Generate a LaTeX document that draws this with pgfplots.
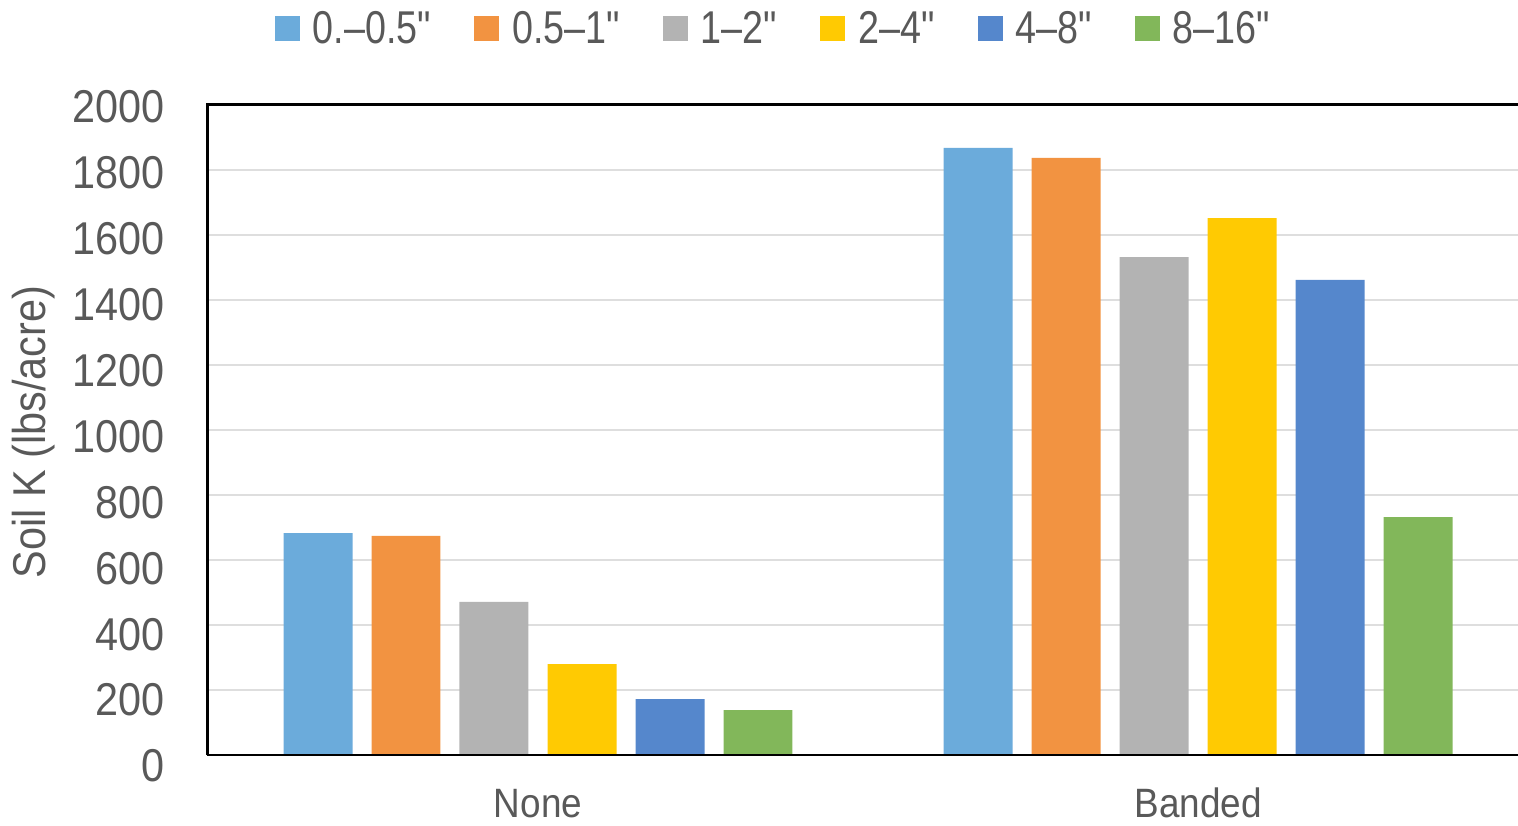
\documentclass[border=0pt]{standalone}
\usepackage{pgfplots}
\pgfplotsset{compat=1.18}
\usepackage{fontspec}
\setmainfont{Liberation Sans}[FakeStretch=0.9]
\newfontfamily\legendfont{Liberation Sans}[FakeStretch=0.82]

\definecolor{txt}{HTML}{595959}
\definecolor{gridc}{HTML}{DEDEDE}
\definecolor{baseline}{HTML}{6A6A6A}
\definecolor{cA}{HTML}{6BABDB}
\definecolor{cB}{HTML}{F29341}
\definecolor{cC}{HTML}{B3B3B3}
\definecolor{cD}{HTML}{FFCA02}
\definecolor{cE}{HTML}{5587CC}
\definecolor{cF}{HTML}{82B75A}

\begin{document}
\begin{tikzpicture}
\useasboundingbox (0,0) rectangle (759pt,412.5pt);
\begin{axis}[
  at={(103.5pt,35pt)}, anchor=south west,
  scale only axis, width=655.5pt, height=325pt,
  xmin=-0.5015, xmax=1.4848, ymin=0, ymax=2000,
  xtick={0,1}, xticklabels={None,Banded},
  ytick={0,200,...,2000},
  scaled y ticks=false,
  major tick length=0pt,
  axis line style={draw=none},
  ymajorgrids, grid style={color=gridc, line width=1pt},
  ybar, bar width=0.1045,
  clip=false,
  font=\fontsize{23}{27}\selectfont,
  /pgf/number format/assume math mode=true,
  /pgf/number format/1000 sep={},
  tick label style={color=txt},
  yticklabel style={anchor=east, inner sep=0pt, xshift=-21pt,
    yshift={-1pt-0.45pt*(10-\ticknum)}},
  xticklabel style={anchor=north, inner sep=0pt, text height=15pt, text depth=0pt,
    yshift=-16pt, font=\fontsize{20.5}{24}\selectfont},
  ylabel={Soil K (lbs/acre)},
  ylabel style={at={(rel axis cs:-0.132,0.497)}, anchor=center, color=txt, inner sep=0pt},
  legend columns=6,
  legend image code/.code={\fill[#1, draw=none] (0pt,-6.25pt) rectangle (12.5pt,6.25pt);},
  legend style={draw=none, fill=none, at={(0.4314,1.117)}, anchor=center,
    font=\legendfont\fontsize{23}{27}\selectfont, text=txt,
    nodes={inner sep=0pt},
    /tikz/every odd column/.append style={column sep=6.5pt},
    /tikz/every even column/.append style={column sep=21.5pt}},
]
\addplot[fill=cA, draw=none, bar shift=-0.3333] coordinates {(0,683) (1,1868)};
\addlegendentry{0.–0.5"}
\addplot[fill=cB, draw=none, bar shift=-0.2] coordinates {(0,674) (1,1837)};
\addlegendentry{0.5–1"}
\addplot[fill=cC, draw=none, bar shift=-0.0667] coordinates {(0,471) (1,1532)};
\addlegendentry{1–2"}
\addplot[fill=cD, draw=none, bar shift=0.0667] coordinates {(0,280) (1,1652)};
\addlegendentry{2–4"}
\addplot[fill=cE, draw=none, bar shift=0.2] coordinates {(0,172) (1,1462)};
\addlegendentry{4–8"}
\addplot[fill=cF, draw=none, bar shift=0.3333] coordinates {(0,138) (1,732)};
\addlegendentry{8–16"}
% frame: left and top in black, baseline in dark grey
\draw[black, line width=1.5pt] (rel axis cs:0,0) -- (rel axis cs:0,1) -- (rel axis cs:1,1);
\draw[baseline, line width=1.2pt] (rel axis cs:0,0) -- (rel axis cs:1,0);
\end{axis}
\end{tikzpicture}
\end{document}
